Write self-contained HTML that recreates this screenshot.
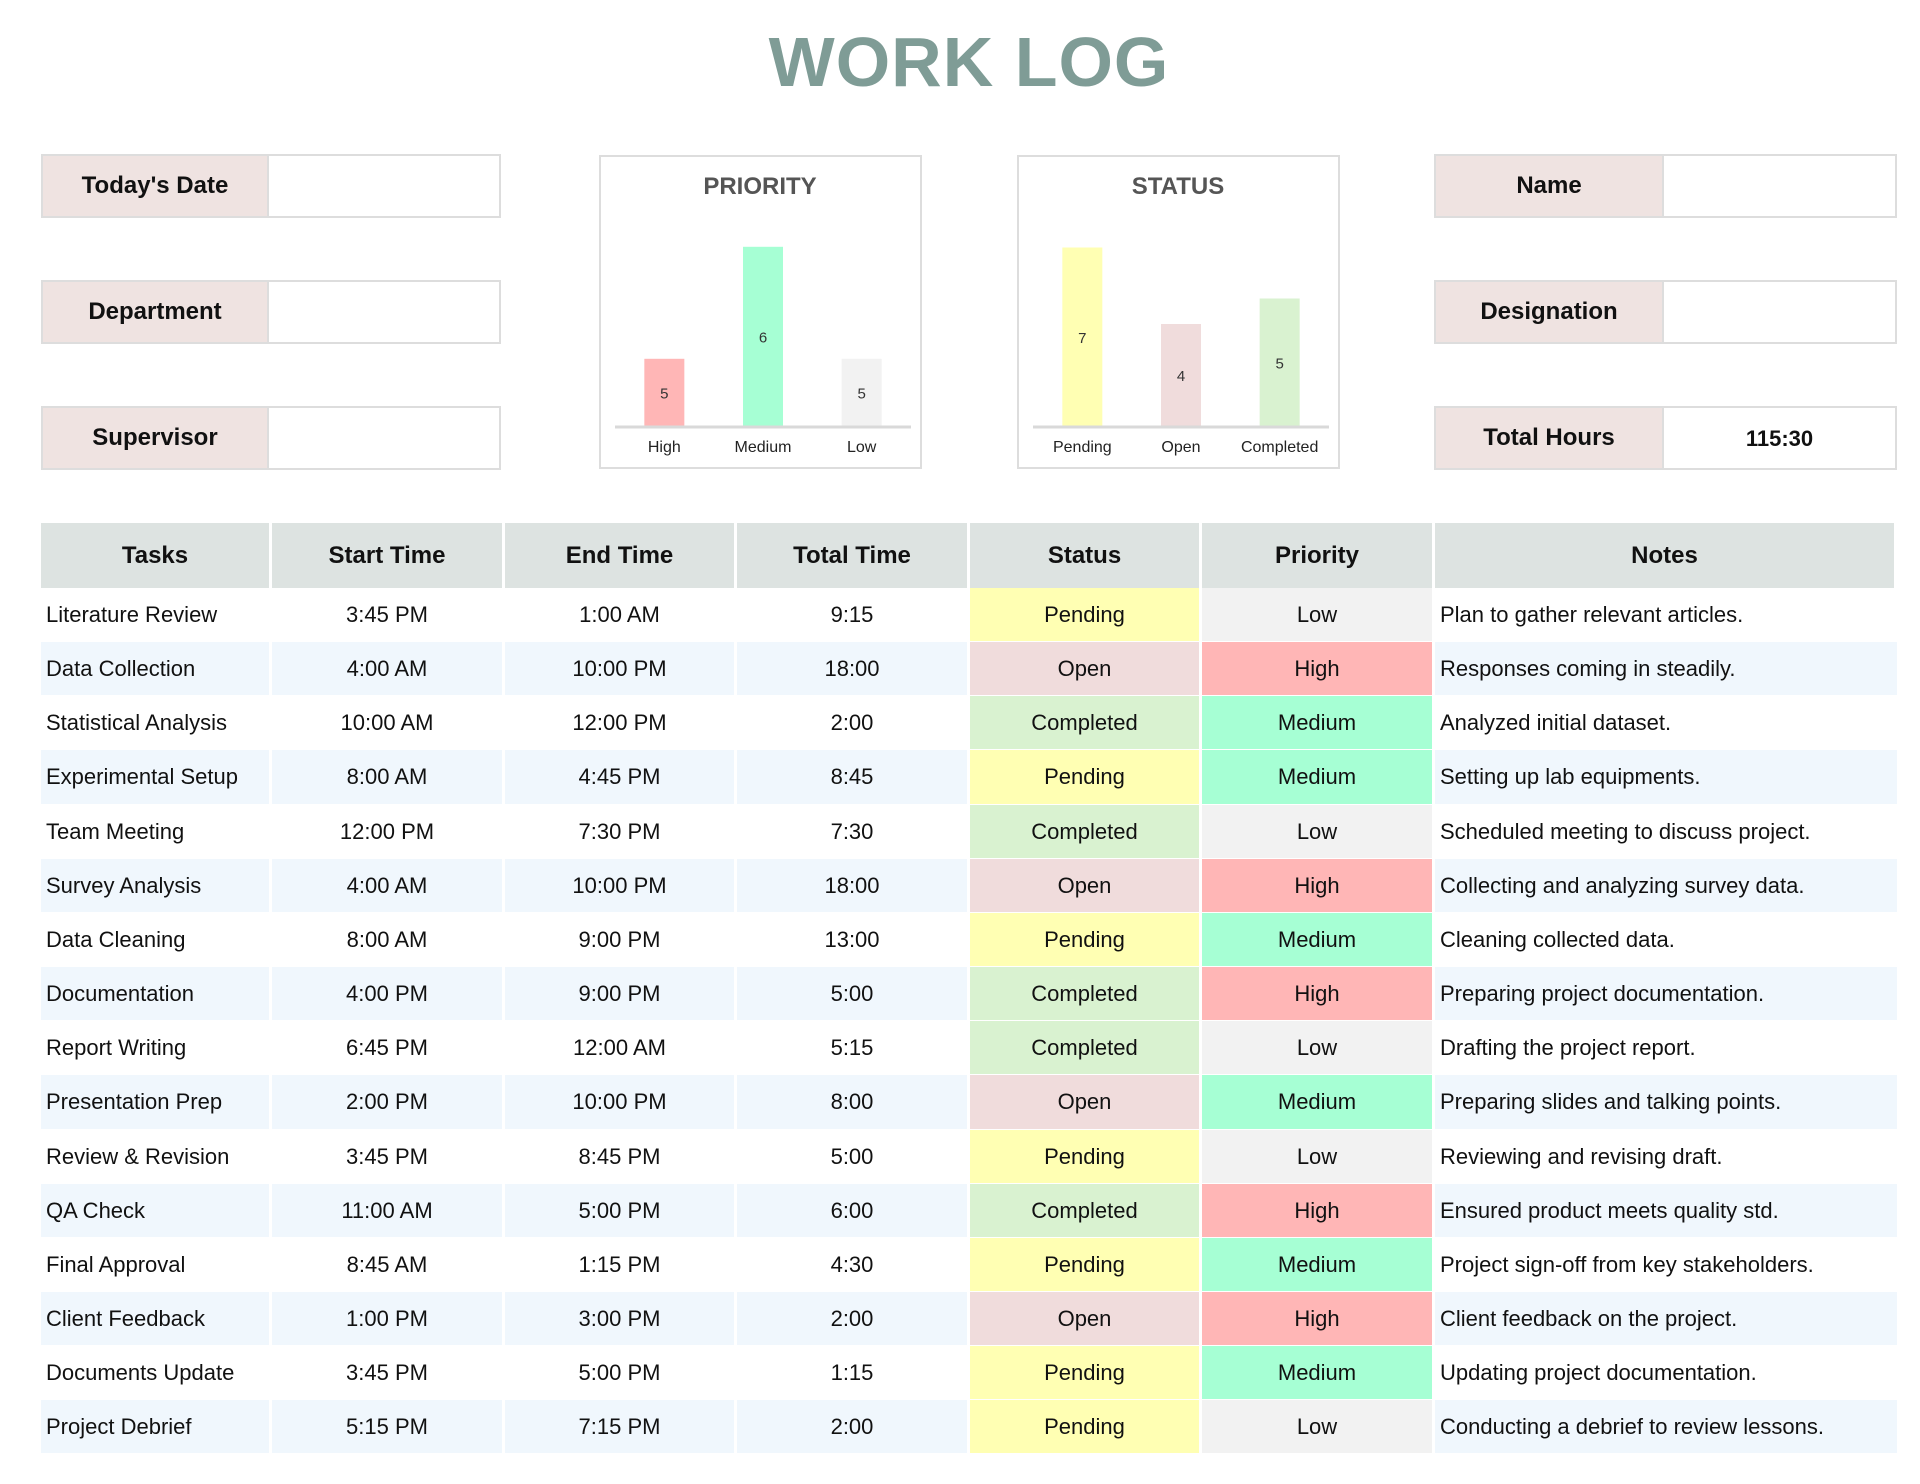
<!DOCTYPE html>
<html><head><meta charset="utf-8"><style>
body{margin:0;width:1920px;height:1484px;background:#fff;font-family:"Liberation Sans",sans-serif;position:relative;overflow:hidden;color:#111}
.a{position:absolute;box-sizing:border-box}
.title{left:0;width:1938px;top:22px;text-align:center;font-size:70px;font-weight:bold;color:#7f9c96;letter-spacing:1px}
.lab{background:#efe3e1;border:2px solid #ddd;font-weight:bold;font-size:24px;display:flex;align-items:center;justify-content:center}
.val{background:#fff;border:2px solid #ddd;font-weight:bold;font-size:22px;display:flex;align-items:center;justify-content:center}
.chart{border:2px solid #ddd;background:#fff}
.cell{position:absolute;box-sizing:border-box;display:flex;align-items:center;justify-content:center;font-size:22px;white-space:nowrap}
.hd{background:#dde3e1;font-weight:bold;font-size:24px}
</style></head><body>
<div class="a title">WORK LOG</div>

<div class="a lab" style="left:41px;top:154px;width:228px;height:64px">Today's Date</div>
<div class="a val" style="left:267px;top:154px;width:234px;height:64px"></div>
<div class="a lab" style="left:41px;top:280px;width:228px;height:64px">Department</div>
<div class="a val" style="left:267px;top:280px;width:234px;height:64px"></div>
<div class="a lab" style="left:41px;top:406px;width:228px;height:64px">Supervisor</div>
<div class="a val" style="left:267px;top:406px;width:234px;height:64px"></div>

<div class="a lab" style="left:1434px;top:154px;width:230px;height:64px">Name</div>
<div class="a val" style="left:1662px;top:154px;width:235px;height:64px"></div>
<div class="a lab" style="left:1434px;top:280px;width:230px;height:64px">Designation</div>
<div class="a val" style="left:1662px;top:280px;width:235px;height:64px"></div>
<div class="a lab" style="left:1434px;top:406px;width:230px;height:64px">Total Hours</div>
<div class="a val" style="left:1662px;top:406px;width:235px;height:64px;align-items:flex-start;padding-top:18px">115:30</div>

<svg class="a" style="left:0;top:0" width="1920" height="520" id="charts"></svg>

<div id="table"></div>

<script>
const priCats=["High","Medium","Low"];
const priVals=[5,6,5];
const statCats=["Pending","Open","Completed"];
const statVals=[7,4,5];
const ns="http://www.w3.org/2000/svg";
const svg=document.getElementById('charts');
function mk(t,a,p){const e=document.createElementNS(ns,t);for(const k in a)e.setAttribute(k,a[k]);(p||svg).appendChild(e);return e;}
function chart(x0,title,cats,vals,colors,min,unit,nm){
  const g=mk('g',{});
  
  
  const box=mk('rect',{x:x0+1,y:156,width:321,height:312,fill:'#fff',stroke:'#ddd','stroke-width':2},g);
  
  
  const t=mk('text',{x:x0+161,y:194,'text-anchor':'middle','font-size':24,'font-weight':'bold',fill:'#555','font-family':'Liberation Sans'},g);
  t.textContent=title;
  
  
  const base=426, ax0=x0+16, ax1=x0+312, step=(ax1-ax0)/cats.length;
  const yS=v=>base-(v-min)*unit;
  cats.forEach((c,i)=>{
    const cx=ax0+step*(i+0.5);
    const y=yS(vals[i]);
    const r=mk('rect',{x:cx-20,y:y,width:40,height:base-y,fill:colors[i]},g);
    
    
    const v=mk('text',{x:cx,y:(y+base)/2+6,'text-anchor':'middle','font-size':15,fill:'#333','font-family':'Liberation Sans'},g);
    v.textContent=vals[i];
    
    
    const l=mk('text',{x:cx,y:452,'text-anchor':'middle','font-size':16,fill:'#222','font-family':'Liberation Sans'},g);
    l.textContent=c;
    
    
  });
  const ax=mk('line',{x1:ax0,x2:ax1,y1:base+1,y2:base+1,stroke:'#d9d9d9','stroke-width':3},g);
  
  
}
chart(599,'PRIORITY',priCats,priVals,['#ffb6b6','#a6ffd4','#f2f2f2'],4.4,112,'priority');
chart(1017,'STATUS',statCats,statVals,['#ffffb3','#f0dcdc','#d9f2d0'],0,25.5,'status');

const headers=["Tasks","Start Time","End Time","Total Time","Status","Priority","Notes"];
const rows=[
["Literature Review","3:45 PM","1:00 AM","9:15","Pending","Low","Plan to gather relevant articles."],
["Data Collection","4:00 AM","10:00 PM","18:00","Open","High","Responses coming in steadily."],
["Statistical Analysis","10:00 AM","12:00 PM","2:00","Completed","Medium","Analyzed initial dataset."],
["Experimental Setup","8:00 AM","4:45 PM","8:45","Pending","Medium","Setting up lab equipments."],
["Team Meeting","12:00 PM","7:30 PM","7:30","Completed","Low","Scheduled meeting to discuss project."],
["Survey Analysis","4:00 AM","10:00 PM","18:00","Open","High","Collecting and analyzing survey data."],
["Data Cleaning","8:00 AM","9:00 PM","13:00","Pending","Medium","Cleaning collected data."],
["Documentation","4:00 PM","9:00 PM","5:00","Completed","High","Preparing project documentation."],
["Report Writing","6:45 PM","12:00 AM","5:15","Completed","Low","Drafting the project report."],
["Presentation Prep","2:00 PM","10:00 PM","8:00","Open","Medium","Preparing slides and talking points."],
["Review & Revision","3:45 PM","8:45 PM","5:00","Pending","Low","Reviewing and revising draft."],
["QA Check","11:00 AM","5:00 PM","6:00","Completed","High","Ensured product meets quality std."],
["Final Approval","8:45 AM","1:15 PM","4:30","Pending","Medium","Project sign-off from key stakeholders."],
["Client Feedback","1:00 PM","3:00 PM","2:00","Open","High","Client feedback on the project."],
["Documents Update","3:45 PM","5:00 PM","1:15","Pending","Medium","Updating project documentation."],
["Project Debrief","5:15 PM","7:15 PM","2:00","Pending","Low","Conducting a debrief to review lessons."]
];
const colX=[41,272,505,737,970,1202,1435,1897];
const statC={Pending:'#ffffb3',Open:'#f0dcdc',Completed:'#d9f2d0'};
const priC={High:'#ffb6b6',Medium:'#a6ffd4',Low:'#f2f2f2'};
const tb=document.getElementById('table');
function cell(txt,x,y,w,h,cls,bg,align,nm){
  const d=document.createElement('div');
  d.className='cell '+(cls||'');
  d.style.cssText=`left:${x}px;top:${y}px;width:${w}px;height:${h}px;`+(bg?`background:${bg};`:'')+(align?`justify-content:flex-start;padding-left:${align}px;`:'');
  d.textContent=txt;
  
  
  tb.appendChild(d);
}
headers.forEach((h,i)=>cell(h,colX[i],523,colX[i+1]-colX[i]-3,65,'hd',null,0,'header-'+h.toLowerCase().replace(/ /g,'-')));
const rh=54.15;
rows.forEach((r,ri)=>{
  const y=Math.round(588+ri*rh), h=Math.round(588+(ri+1)*rh)-y;
  const alt=ri%2?'#f0f7fd':'#fff';
  r.forEach((v,ci)=>{
    let bg=alt;
    if(ci===4)bg=statC[v];
    if(ci===5)bg=priC[v];
    const w=colX[ci+1]-colX[ci]-(ci===6?0:3);
    cell(v,colX[ci],y,w,h-1,'',bg,(ci===0||ci===6)?5:0,'row'+(ri+1)+'-'+headers[ci].toLowerCase().replace(/ /g,'-'));
  });
});
</script>
</body></html>
